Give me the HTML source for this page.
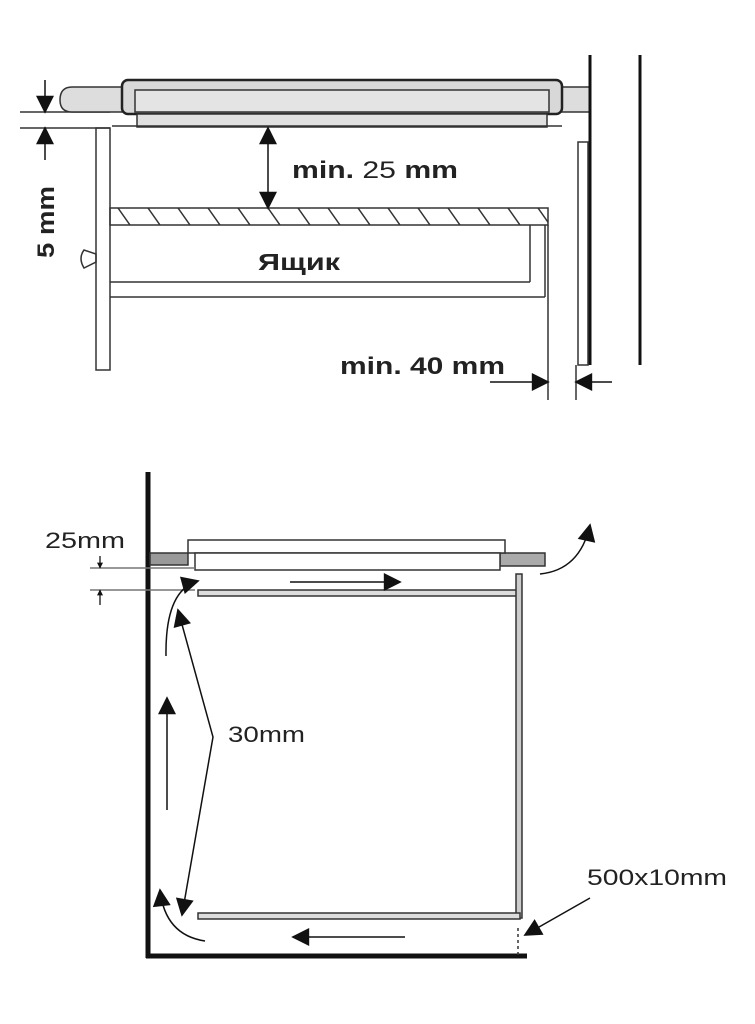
<!DOCTYPE html>
<html><head><meta charset="utf-8"><style>body{margin:0;background:#fff}svg{display:block}</style></head><body>
<svg width="755" height="1024" viewBox="0 0 755 1024" xmlns="http://www.w3.org/2000/svg" font-family="Liberation Sans, sans-serif">
<defs>
<marker id="ah" viewBox="0 0 10 10" refX="9" refY="5" markerWidth="6" markerHeight="6" orient="auto-start-reverse" markerUnits="userSpaceOnUse"><path d="M0,0 L10,5 L0,10 z" fill="#111"/></marker>
<marker id="ab" viewBox="0 0 10 10" refX="9" refY="5" markerWidth="24" markerHeight="18" orient="auto-start-reverse" markerUnits="userSpaceOnUse"><path d="M0,0 L10,5 L0,10 z" fill="#111"/></marker>
<pattern id="hatch" width="30" height="17" patternUnits="userSpaceOnUse" x="110" y="208"><path d="M8,0 L20,17" stroke="#333" stroke-width="1.5"/></pattern>
</defs>
<g stroke="#333" fill="none" stroke-width="1.5">
<line x1="20" y1="112" x2="110" y2="112"/><line x1="20" y1="128" x2="110" y2="128"/>
<path d="M125,87 L72,87 Q60,87 60,100 Q60,112 72,112 L125,112 Z" fill="#ddd"/>
<path d="M560,87 L590,87 L590,112 L560,112 Z" fill="#ddd"/>
<rect x="122" y="80" width="440" height="34" rx="6" fill="#d8d8d8" stroke="#222" stroke-width="2.5"/>
<rect x="135" y="90" width="414" height="22" fill="#e4e4e4"/>
<rect x="137" y="114" width="410" height="13" fill="#e0e0e0"/>
<line x1="112" y1="126" x2="562" y2="126"/>
<line x1="590" y1="55" x2="590" y2="365" stroke="#111" stroke-width="3"/>
<line x1="640" y1="55" x2="640" y2="365" stroke="#111" stroke-width="3"/>
<rect x="578" y="142" width="10" height="223"/>
<rect x="96" y="128" width="14" height="242"/>
<path d="M84,250 Q78,258 84,268 L96,262 L96,254 Z"/>
<rect x="110" y="208" width="438" height="17" fill="url(#hatch)" stroke="#333"/>
<line x1="110" y1="282" x2="530" y2="282"/><line x1="530" y1="225" x2="530" y2="282"/>
<line x1="110" y1="297" x2="545" y2="297"/><line x1="545" y1="225" x2="545" y2="297"/>
<line x1="548" y1="225" x2="548" y2="400"/><line x1="576" y1="365" x2="576" y2="400"/>
<line x1="45" y1="80" x2="45" y2="112" stroke="#111" marker-end="url(#ab)"/>
<line x1="45" y1="160" x2="45" y2="128" stroke="#111" marker-end="url(#ab)"/>
<line x1="268" y1="168" x2="268" y2="128" stroke="#111" marker-end="url(#ab)"/>
<line x1="268" y1="168" x2="268" y2="208" stroke="#111" marker-end="url(#ab)"/>
<line x1="490" y1="382" x2="548" y2="382" stroke="#111" marker-end="url(#ab)"/>
<line x1="612" y1="382" x2="576" y2="382" stroke="#111" marker-end="url(#ab)"/>
<line x1="148" y1="472" x2="148" y2="958" stroke="#111" stroke-width="5"/>
<line x1="146" y1="956" x2="527" y2="956" stroke="#111" stroke-width="5"/>
<rect x="150" y="553" width="38" height="12" fill="#999"/>
<rect x="500" y="553" width="45" height="13" fill="#aaa"/>
<rect x="188" y="540" width="317" height="13" fill="#fff"/>
<rect x="195" y="553" width="305" height="17" fill="#fff"/>
<line x1="90" y1="568" x2="195" y2="568" stroke="#777"/><line x1="90" y1="590" x2="195" y2="590" stroke="#777"/>
<line x1="100" y1="556" x2="100" y2="568" marker-end="url(#ah)"/><line x1="100" y1="605" x2="100" y2="590" marker-end="url(#ah)"/>
<rect x="198" y="590" width="322" height="6" fill="#ddd"/>
<rect x="516" y="574" width="6" height="344" fill="#ccc"/>
<rect x="198" y="913" width="322" height="6" fill="#ddd"/>
<line x1="290" y1="582" x2="400" y2="582" stroke="#111" marker-end="url(#ab)"/>
<line x1="405" y1="937" x2="293" y2="937" stroke="#111" marker-end="url(#ab)"/>
<line x1="167" y1="810" x2="167" y2="698" stroke="#111" marker-end="url(#ab)"/>
<path d="M540,574 Q580,570 590,525" stroke="#111" marker-end="url(#ab)"/>
<path d="M166,656 Q165,590 198,581" stroke="#111" marker-end="url(#ab)"/>
<path d="M205,941 Q165,935 160,890" stroke="#111" marker-end="url(#ab)"/>
<path d="M178,610 L213,737 L182,915" stroke="#111" marker-start="url(#ab)" marker-end="url(#ab)"/>
<line x1="590" y1="898" x2="525" y2="935" stroke="#111" marker-end="url(#ab)"/>
<line x1="518" y1="928" x2="518" y2="958" stroke-dasharray="3,3"/>
</g>
<g fill="#222">
<text x="292" y="178" font-size="24" font-weight="bold" textLength="166" lengthAdjust="spacingAndGlyphs">min.<tspan font-weight="normal"> 25 </tspan> mm</text>
<text x="258" y="270" font-size="23" font-weight="bold" textLength="82" lengthAdjust="spacingAndGlyphs">Ящик</text>
<text x="340" y="374" font-size="24" font-weight="bold" textLength="165" lengthAdjust="spacingAndGlyphs">min. 40 mm</text>
<text transform="translate(54,258) rotate(-90)" font-size="24" font-weight="bold" textLength="72" lengthAdjust="spacingAndGlyphs">5 mm</text>
<text x="45" y="548" font-size="22" textLength="80" lengthAdjust="spacingAndGlyphs">25mm</text>
<text x="228" y="742" font-size="22" textLength="77" lengthAdjust="spacingAndGlyphs">30mm</text>
<text x="587" y="885" font-size="22" textLength="140" lengthAdjust="spacingAndGlyphs">500x10mm</text>
</g>
</svg>
</body></html>
